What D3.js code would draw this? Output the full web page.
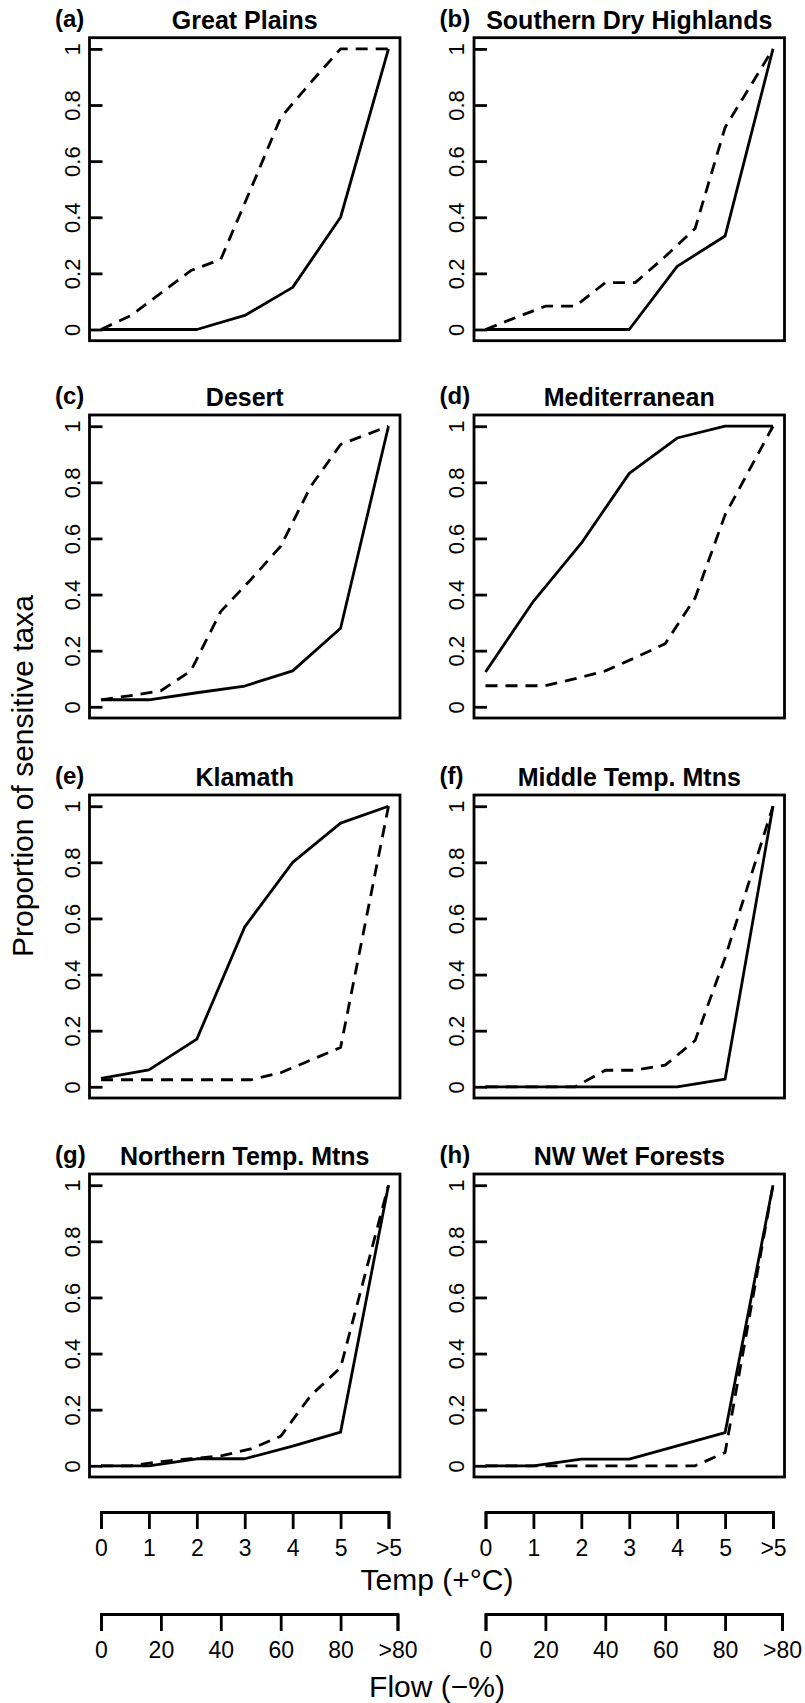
<!DOCTYPE html>
<html>
<head>
<meta charset="utf-8">
<script src="https://cdn.jsdelivr.net/npm/d3@7"></script>
<style>
  body { margin: 0; background: #fff; }
  svg text { font-family: "Liberation Sans", Arial, Helvetica, sans-serif; fill: #000; }
</style>
</head>
<body>
<div class="chart"></div>
<script>
// x positions of the two series
const TEMP_X = [0, 1, 2, 3, 4, 5, 6];
const TEMP_LABELS = ["0", "1", "2", "3", "4", "5", ">5"];
const FLOW_X = [0, 10, 20, 30, 40, 50, 60, 70, 80, 96];
const FLOW_TICKS = [0, 20, 40, 60, 80, 99];
const FLOW_LABELS = ["0", "20", "40", "60", "80", ">80"];
const Y_TICKS = [0, 0.2, 0.4, 0.6, 0.8, 1];

const LETTERS = ["(a)", "(b)", "(c)", "(d)", "(e)", "(f)", "(g)", "(h)"];
const REGIONS = ["Great Plains", "Southern Dry Highlands", "Desert", "Mediterranean",
                 "Klamath", "Middle Temp. Mtns", "Northern Temp. Mtns", "NW Wet Forests"];

// proportion of sensitive taxa (solid = temperature, dashed = flow)
const greatPlainsTemp = [0, 0, 0, 0.05, 0.15, 0.40, 1];
const greatPlainsFlow = [0, 0.05, 0.13, 0.21, 0.25, 0.50, 0.755, 0.88, 1, 1];
const southernDryTemp = [0, 0, 0, 0, 0.225, 0.333, 1];
const southernDryFlow = [0, 0.042, 0.083, 0.083, 0.167, 0.167, 0.26, 0.36, 0.72, 1];
const desertTemp = [0.025, 0.025, 0.05, 0.074, 0.128, 0.28, 1];
const desertFlow = [0.025, 0.04, 0.057, 0.128, 0.34, 0.453, 0.572, 0.785, 0.935, 1];
const mediterraneanTemp = [0.124, 0.376, 0.583, 0.832, 0.958, 1, 1];
const mediterraneanFlow = [0.075, 0.075, 0.075, 0.10, 0.128, 0.175, 0.225, 0.388, 0.684, 1];
const klamathTemp = [0.03, 0.06, 0.17, 0.57, 0.80, 0.94, 1];
const klamathFlow = [0.025, 0.025, 0.025, 0.025, 0.025, 0.025, 0.05, 0.095, 0.14, 1];
const middleTempTemp = [0, 0, 0, 0, 0, 0.027, 1];
const middleTempFlow = [0, 0, 0, 0, 0.059, 0.059, 0.077, 0.165, 0.46, 1];
const northernTempTemp = [0, 0, 0.025, 0.025, 0.07, 0.12, 1];
const northernTempFlow = [0, 0, 0.015, 0.025, 0.035, 0.06, 0.105, 0.25, 0.35, 1];
const nwWetTemp = [0, 0, 0.024, 0.024, 0.071, 0.118, 1];
const nwWetFlow = [0, 0, 0, 0, 0, 0, 0, 0, 0.047, 1];

const TEMP_SERIES = [greatPlainsTemp, southernDryTemp, desertTemp, mediterraneanTemp,
                     klamathTemp, middleTempTemp, northernTempTemp, nwWetTemp];
const FLOW_SERIES = [greatPlainsFlow, southernDryFlow, desertFlow, mediterraneanFlow,
                     klamathFlow, middleTempFlow, northernTempFlow, nwWetFlow];

// frame
let FRAME_WIDTH = 805;
let FRAME_HEIGHT = 1703;
let COL_LEFT = [89.5, 474];
let ROW_TOP = [37.7, 415, 795, 1174];
let BOX_W = 310.5;
let BOX_H = 303;
let LW = 2.8;

let SVG = d3.select(".chart")
            .append("svg")
            .attr("width", FRAME_WIDTH)
            .attr("height", FRAME_HEIGHT);

SVG.append("rect")
   .attr("width", FRAME_WIDTH)
   .attr("height", FRAME_HEIGHT)
   .attr("fill", "#fff");

// x scale per column, R style 4% padding
function makeX(col) {
    return d3.scaleLinear()
             .domain([-0.24, 6.24])
             .range([COL_LEFT[col], COL_LEFT[col] + BOX_W]);
}

REGIONS.forEach((name, i) => {
    let col = i % 2;
    let row = Math.floor(i / 2);
    let left = COL_LEFT[col];
    let top = ROW_TOP[row];

    const X_SCALE = makeX(col);
    const Y_SCALE = d3.scaleLinear()
                      .domain([-0.04, 1.04])
                      .range([top + BOX_H, top]);
    // flow percent -> same pixel range (80 % sits under 5 degrees)
    const FLOW_SCALE = (f) => X_SCALE(f / 16);

    let g = SVG.append("g");

    // y axis with inward ticks and rotated labels
    let yAxis = g.append("g")
                 .attr("transform", "translate(" + left + ",0)")
                 .call(d3.axisLeft(Y_SCALE)
                         .tickValues(Y_TICKS)
                         .tickFormat(d3.format("~g"))
                         .tickSizeInner(-13)
                         .tickSizeOuter(0));
    yAxis.select(".domain").remove();
    yAxis.selectAll("line").attr("stroke-width", LW);
    yAxis.selectAll("text")
         .attr("x", 0)
         .attr("dy", 0)
         .attr("text-anchor", "middle")
         .attr("transform", "translate(-10,0) rotate(-90)")
         .attr("font-size", "22px")
         .attr("font-family", null);

    // temperature line
    g.append("path")
     .datum(TEMP_SERIES[i])
     .attr("fill", "none")
     .attr("stroke", "#000")
     .attr("stroke-width", LW)
     .attr("stroke-linejoin", "round")
     .attr("d", d3.line()
                  .x((d, j) => X_SCALE(TEMP_X[j]))
                  .y((d) => Y_SCALE(d)));

    // flow line
    g.append("path")
     .datum(FLOW_SERIES[i])
     .attr("fill", "none")
     .attr("stroke", "#000")
     .attr("stroke-width", LW)
     .attr("stroke-dasharray", "12,8")
     .attr("stroke-linejoin", "round")
     .attr("d", d3.line()
                  .x((d, j) => FLOW_SCALE(FLOW_X[j]))
                  .y((d) => Y_SCALE(d)));

    // box
    g.append("rect")
     .attr("x", left)
     .attr("y", top)
     .attr("width", BOX_W)
     .attr("height", BOX_H)
     .attr("fill", "none")
     .attr("stroke", "#000")
     .attr("stroke-width", LW);

    // title and letter
    g.append("text")
     .attr("x", left + BOX_W / 2)
     .attr("y", top - 9)
     .attr("text-anchor", "middle")
     .attr("font-size", "25px")
     .attr("font-weight", "bold")
     .text(name);

    g.append("text")
     .attr("x", left - 34.5)
     .attr("y", top - 11)
     .attr("font-size", "24px")
     .attr("font-weight", "bold")
     .text(LETTERS[i]);
});

// bottom axes: temperature and flow under each column
[0, 1].forEach((col) => {
    const X_SCALE = makeX(col);
    const TEMP_AXIS = d3.scaleLinear()
                        .domain([0, 6])
                        .range([X_SCALE(0), X_SCALE(6)]);
    const FLOW_AXIS = d3.scaleLinear()
                        .domain([0, 99])
                        .range([X_SCALE(0), X_SCALE(99 / 16)]);

    let tempAxis = SVG.append("g")
                      .attr("transform", "translate(0,1512)")
                      .call(d3.axisBottom(TEMP_AXIS)
                              .tickValues(TEMP_X)
                              .tickFormat((d, j) => TEMP_LABELS[j])
                              .tickSize(17)
                              .tickPadding(11));

    let flowAxis = SVG.append("g")
                      .attr("transform", "translate(0,1614)")
                      .call(d3.axisBottom(FLOW_AXIS)
                              .tickValues(FLOW_TICKS)
                              .tickFormat((d, j) => FLOW_LABELS[j])
                              .tickSize(17)
                              .tickPadding(11));

    [tempAxis, flowAxis].forEach((ax) => {
        ax.attr("font-family", null);
        ax.select(".domain").attr("stroke-width", LW);
        ax.selectAll("line").attr("stroke-width", LW);
        ax.selectAll("text").attr("font-size", "23px");
    });
});

// axis titles
SVG.append("text")
   .attr("transform", "translate(33,776) rotate(-90)")
   .attr("text-anchor", "middle")
   .attr("font-size", "30px")
   .text("Proportion of sensitive taxa");

SVG.append("text")
   .attr("x", 437)
   .attr("y", 1590)
   .attr("text-anchor", "middle")
   .attr("font-size", "30px")
   .text("Temp (+°C)");

SVG.append("text")
   .attr("x", 437)
   .attr("y", 1697)
   .attr("text-anchor", "middle")
   .attr("font-size", "30px")
   .text("Flow (−%)");
</script>
</body>
</html>
